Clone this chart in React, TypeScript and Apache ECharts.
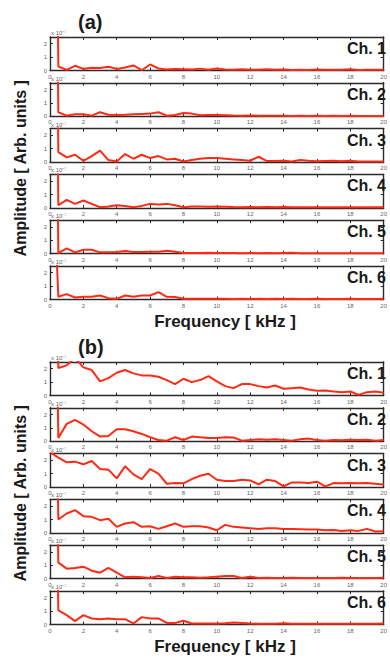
import React, { useEffect, useRef } from "react";
import * as echarts from "echarts";

const freq = [
  0, 0.5, 1, 1.5, 2, 2.5, 3, 3.5, 4, 4.5,
  5, 5.5, 6, 6.5, 7, 7.5, 8, 8.5, 9, 9.5,
  10, 10.5, 11, 11.5, 12, 12.5, 13, 13.5, 14, 14.5,
  15, 15.5, 16, 16.5, 17, 17.5, 18, 18.5, 19, 19.5,
  20,
];

const xTicks = [0, 2, 4, 6, 8, 10, 12, 14, 16, 18, 20];
const yTicks = [0, 1, 2];

const channelNames = ["Ch. 1", "Ch. 2", "Ch. 3", "Ch. 4", "Ch. 5", "Ch. 6"];
const panelNames = ["(a)", "(b)"];

const a1 = [60, 0.3, 0.05, 0.35, 0.12, 0.2, 0.18, 0.28, 0.12, 0.22,
  0.38, 0.02, 0.45, 0.15, 0.08, 0.12, 0.1, 0.08, 0.14, 0.06,
  0.15, 0.08, 0.05, 0.1, 0.06, 0.05, 0.1, 0.05, 0.08, 0.04,
  0.06, 0.04, 0.08, 0.05, 0.06, 0.05, 0.1, 0.04, 0.05, 0.05,
  0.05];
const a2 = [60, 0.3, 0.05, 0.15, 0.15, 0.05, 0.3, 0.12, 0.1, 0.12,
  0.15, 0.18, 0.2, 0.3, 0.05, 0.1, 0.25, 0.2, 0.08, 0.1,
  0.1, 0.08, 0.06, 0.05, 0.06, 0.05, 0.04, 0.05, 0.04, 0.03,
  0.04, 0.03, 0.05, 0.03, 0.04, 0.03, 0.04, 0.03, 0.03, 0.03,
  0.03];
const a3 = [60, 0.75, 0.35, 0.55, 0.1, 0.45, 0.85, 0.15, 0.05, 0.6,
  0.25, 0.55, 0.3, 0.45, 0.2, 0.25, 0.05, 0.15, 0.25, 0.3,
  0.3, 0.25, 0.2, 0.15, 0.1, 0.4, 0.08, 0.08, 0.1, 0.05,
  0.15, 0.1, 0.06, 0.08, 0.1, 0.06, 0.1, 0.05, 0.05, 0.04,
  0.05];
const a4 = [60, 0.2, 0.6, 0.3, 0.55, 0.3, 0.05, 0.1, 0.2, 0.15,
  0.05, 0.15, 0.3, 0.25, 0.3, 0.2, 0.05, 0.1, 0.1, 0.08,
  0.1, 0.08, 0.06, 0.05, 0.06, 0.04, 0.06, 0.05, 0.06, 0.04,
  0.05, 0.04, 0.05, 0.04, 0.05, 0.04, 0.05, 0.04, 0.05, 0.04,
  0.05];
const a5 = [60, 0.05, 0.4, 0.1, 0.3, 0.3, 0.1, 0.1, 0.12, 0.2,
  0.12, 0.12, 0.15, 0.15, 0.22, 0.15, 0.05, 0.05, 0.05, 0.08,
  0.05, 0.06, 0.05, 0.04, 0.06, 0.04, 0.05, 0.04, 0.06, 0.08,
  0.03, 0.04, 0.03, 0.04, 0.03, 0.03, 0.04, 0.03, 0.03, 0.03,
  0.03];
const a6 = [15, 0.2, 0.4, 0.15, 0.2, 0.2, 0.3, 0.1, 0.05, 0.3,
  0.2, 0.3, 0.3, 0.55, 0.2, 0.18, 0.05, 0.05, 0.06, 0.05,
  0.06, 0.05, 0.04, 0.05, 0.04, 0.05, 0.04, 0.05, 0.04, 0.05,
  0.04, 0.04, 0.05, 0.04, 0.04, 0.04, 0.05, 0.04, 0.04, 0.04,
  0.05];

const b1 = [30, 2.05, 2.25, 2.8, 2.1, 1.9, 1.05, 1.3, 1.7, 1.9,
  1.65, 1.5, 1.5, 1.4, 1.15, 0.85, 1.25, 1.0, 1.15, 1.45,
  1.05, 0.7, 0.55, 0.85, 0.85, 0.7, 0.6, 0.75, 0.5, 0.55,
  0.6, 0.45, 0.35, 0.38, 0.3, 0.25, 0.3, 0.05, 0.25, 0.3,
  0.2];
const b2 = [40, 0.25, 1.3, 1.6, 1.25, 0.75, 0.35, 0.4, 0.9, 0.9,
  0.75, 0.55, 0.3, 0.1, 0.05, 0.3, 0.1, 0.35, 0.3, 0.25,
  0.25, 0.3, 0.28, 0.05, 0.1, 0.15, 0.12, 0.15, 0.1, 0.05,
  0.15, 0.2, 0.1, 0.05, 0.1, 0.08, 0.12, 0.1, 0.12, 0.05,
  0.1];
const b3 = [2.6, 2.2, 1.85, 1.9, 1.7, 1.95, 1.35, 1.3, 0.65, 1.55,
  0.95, 0.6, 1.35, 1.0, 0.25, 0.3, 0.28, 0.6, 0.85, 1.0,
  0.55, 0.45, 0.45, 0.55, 0.5, 0.2, 0.55, 0.45, 0.05, 0.35,
  0.35, 0.3, 0.4, 0.05, 0.3, 0.28, 0.3, 0.28, 0.3, 0.25,
  0.2];
const b4 = [40, 1.0, 1.45, 1.7, 1.25, 1.2, 0.95, 1.05, 0.45, 0.7,
  0.8, 0.45, 0.5, 0.3, 0.5, 0.7, 0.45, 0.5, 0.5, 0.4,
  0.2, 0.6, 0.45, 0.4, 0.35, 0.3, 0.35, 0.35, 0.3, 0.3,
  0.28, 0.25, 0.25, 0.2, 0.22, 0.15, 0.2, 0.15, 0.3, 0.1,
  0.12];
const b5 = [40, 1.2, 0.75, 0.8, 0.9, 0.6, 0.45, 0.8, 0.45, 0.1,
  0.15, 0.1, 0.05, 0.2, 0.05, 0.15, 0.1, 0.1, 0.08, 0.1,
  0.15, 0.2, 0.2, 0.05, 0.15, 0.05, 0.08, 0.05, 0.05, 0.08,
  0.05, 0.06, 0.05, 0.05, 0.05, 0.08, 0.05, 0.05, 0.06, 0.05,
  0.08];
const b6 = [40, 1.05, 0.7, 0.25, 0.7, 0.45, 0.4, 0.45, 0.4, 0.4,
  0.08, 0.55, 0.45, 0.45, 0.12, 0.12, 0.28, 0.08, 0.08, 0.08,
  0.08, 0.1, 0.15, 0.12, 0.08, 0.05, 0.06, 0.05, 0.1, 0.05,
  0.06, 0.05, 0.06, 0.05, 0.06, 0.05, 0.05, 0.06, 0.05, 0.05,
  0.08];

const panelSeries = [
  [a1, a2, a3, a4, a5, a6],
  [b1, b2, b3, b4, b5, b6],
];

const FONT = "'Liberation Sans', Arial, sans-serif";
const LINE_COLOR = "#ff2a14";
const AXIS_COLOR = "#2a2a2a";

export default function App() {
  const ref = useRef<HTMLDivElement>(null);

  useEffect(() => {
    if (!ref.current) return;
    const chart = echarts.init(ref.current, undefined, { renderer: "svg" });

    const panelTops = [37, 362];
    const pitch = 45.8;
    const plotH = 33.5;
    const left = 50;
    const plotW = 335;

    const grids: any[] = [];
    const xAxes: any[] = [];
    const yAxes: any[] = [];
    const series: any[] = [];
    const graphics: any[] = [];

    const axisLine = { show: true, onZero: false, lineStyle: { color: AXIS_COLOR, width: 1.4 } };
    const axisTick = { show: true, inside: true, length: 3, lineStyle: { color: AXIS_COLOR, width: 1 } };

    panelSeries.forEach((chs, p) => {
      chs.forEach((vals, c) => {
        const gi = p * 6 + c;
        const top = panelTops[p] + c * pitch;
        grids.push({ left, top, width: plotW, height: plotH });
        const xBase = {
          gridIndex: gi,
          type: "value",
          min: xTicks[0],
          max: xTicks[xTicks.length - 1],
          interval: xTicks[1] - xTicks[0],
          axisLine,
          axisTick,
          splitLine: { show: false },
        };
        xAxes.push({
          ...xBase,
          position: "bottom",
          axisLabel: { fontSize: 6, color: "#666", margin: 3, fontFamily: FONT },
        });
        xAxes.push({ ...xBase, position: "top", axisLabel: { show: false } });
        const yBase = {
          gridIndex: gi,
          type: "value",
          min: 0,
          max: 2.5,
          interval: yTicks[1] - yTicks[0],
          axisLine,
          axisTick,
          splitLine: { show: false },
        };
        yAxes.push({
          ...yBase,
          position: "left",
          axisLabel: {
            fontSize: 6,
            color: "#666",
            margin: 3,
            fontFamily: FONT,
            showMaxLabel: false,
            formatter: (v: number) => (yTicks.indexOf(v) >= 0 ? String(v) : ""),
          },
        });
        yAxes.push({ ...yBase, position: "right", axisLabel: { show: false } });
        series.push({
          type: "line",
          xAxisIndex: gi * 2,
          yAxisIndex: gi * 2,
          data: freq.map((f, k) => [f, vals[k]]),
          showSymbol: false,
          clip: true,
          lineStyle: { color: LINE_COLOR, width: 2 },
          z: 1,
        });
        graphics.push({
          type: "text",
          x: left + plotW + 1,
          y: top + 11.5,
          style: {
            text: channelNames[c],
            fontSize: 16,
            fontWeight: "bold",
            fontFamily: FONT,
            fill: "#1a1a1a",
            textAlign: "right",
            textVerticalAlign: "middle",
          },
          z: 100,
        });
        graphics.push({
          type: "text",
          x: left + 1,
          y: top - 4,
          style: {
            text: "x 10⁻⁷",
            fontSize: 6,
            fontFamily: FONT,
            fill: "#666",
            textAlign: "left",
            textVerticalAlign: "middle",
          },
          z: 100,
        });
      });

      const pTop = panelTops[p];
      const pBottom = pTop + 5 * pitch + plotH;
      graphics.push({
        type: "text",
        x: 78,
        y: pTop - 15,
        style: {
          text: panelNames[p],
          fontSize: 20,
          fontWeight: "bold",
          fontFamily: FONT,
          fill: "#1a1a1a",
          textAlign: "left",
          textVerticalAlign: "middle",
        },
      });
      graphics.push({
        type: "text",
        x: 225,
        y: pBottom + 22,
        style: {
          text: "Frequency [ kHz ]",
          fontSize: 17,
          fontWeight: "bold",
          fontFamily: FONT,
          fill: "#1a1a1a",
          textAlign: "center",
          textVerticalAlign: "middle",
        },
      });
      graphics.push({
        type: "text",
        x: 20,
        y: (pTop + pBottom) / 2,
        rotation: Math.PI / 2,
        style: {
          text: "Amplitude [ Arb. units ]",
          fontSize: 16,
          fontWeight: "bold",
          fontFamily: FONT,
          fill: "#1a1a1a",
          textAlign: "center",
          textVerticalAlign: "middle",
        },
      });
    });

    chart.setOption({
      animation: false,
      backgroundColor: "#ffffff",
      grid: grids,
      xAxis: xAxes,
      yAxis: yAxes,
      series,
      graphic: graphics,
    });

    return () => chart.dispose();
  }, []);

  return (
    <div
      ref={ref}
      style={{ position: "fixed", left: 0, top: 0, width: 390, height: 667, background: "#fff" }}
    />
  );
}
